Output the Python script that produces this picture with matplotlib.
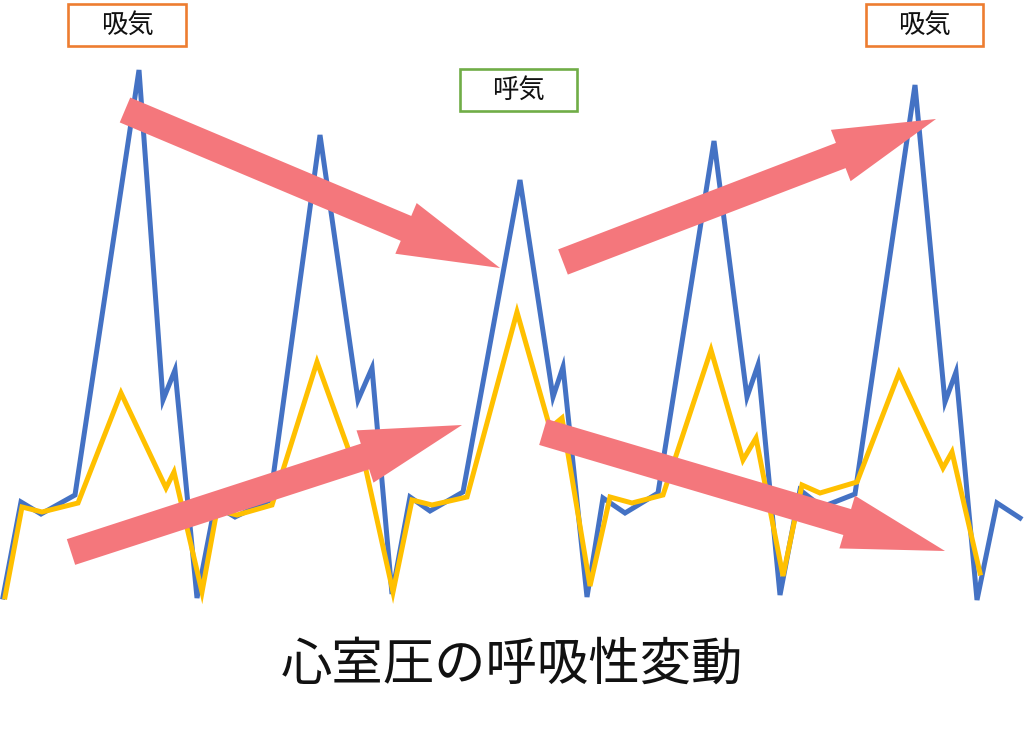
import numpy as np
import matplotlib
matplotlib.use("Agg")
import matplotlib.pyplot as plt
from matplotlib.patches import FancyArrow, Rectangle

plt.rcParams['font.family'] = ['Noto Sans CJK JP', 'DejaVu Sans']

# blue trace (left ventricle-ish) in pixel units
blue_x = [3, 21, 41, 75, 139, 163, 175, 197, 215, 235, 270, 320, 358, 372, 392,
          410, 430, 463, 520, 553, 563, 587, 603, 625, 658, 714, 747, 758, 780,
          800, 822, 855, 915, 945, 956, 977, 997, 1020]
blue_y = [597, 502, 514, 495, 70, 400, 370, 598, 505, 517, 500, 135, 400, 368, 594,
          497, 511, 492, 180, 397, 367, 597, 498, 513, 493, 141, 397, 365, 595,
          490, 507, 494, 85, 402, 372, 600, 503, 518]

# yellow trace
yellow_x = [5, 22, 42, 78, 121, 166, 174, 202, 217, 237, 272, 317, 353, 362, 393,
            412, 432, 467, 517, 550, 562, 590, 610, 632, 663, 711, 743, 756, 783,
            802, 820, 857, 899, 943, 952, 980]
yellow_y = [597, 507, 512, 503, 393, 488, 472, 592, 510, 515, 505, 362, 462, 452, 592,
            500, 505, 497, 312, 428, 418, 586, 497, 503, 495, 350, 460, 438, 576,
            485, 493, 482, 373, 468, 452, 573]

# arrows: start -> tip
arrows = [((125, 110), (500, 268)),
          ((71, 552), (462, 425)),
          ((563, 262), (936, 119)),
          ((543, 432), (945, 551))]

# phase labels: text, left, top, right, bottom, edge colour
boxes = [("吸気", 68, 4, 186, 46, "#ED7D31"),
         ("呼気", 460, 69, 577, 111, "#70AD47"),
         ("吸気", 866, 4, 983, 46, "#ED7D31")]

fig = plt.figure(figsize=(10.24, 7.32), dpi=100)
ax = fig.add_axes([0, 0, 1, 1])
ax.set_xlim(0, 1024)
ax.set_ylim(732, 0)
ax.axis('off')

ax.plot(blue_x, blue_y, color='#4472C4', lw=3.6, solid_joinstyle='miter', zorder=2)
ax.plot(yellow_x, yellow_y, color='#FFC000', lw=3.6, solid_joinstyle='miter', zorder=3)

for (x0, y0), (x1, y1) in arrows:
    ax.add_patch(FancyArrow(x0, y0, x1 - x0, y1 - y0, width=27, head_width=55,
                            head_length=102, length_includes_head=True,
                            color='#F4777C', lw=0, zorder=4))

for label, l, t, r, b, ec in boxes:
    ax.add_patch(Rectangle((l, t), r - l, b - t, facecolor='white', edgecolor=ec,
                           lw=1.9, zorder=5))
    ax.text((l + r) / 2, (t + b) / 2, label, fontsize=19, ha='center', va='center',
            color='#111111', zorder=6)

ax.text(512, 665, "心室圧の呼吸性変動", fontsize=37, ha='center', va='center',
        color='#111111')

fig.savefig("out.png", dpi=100)
